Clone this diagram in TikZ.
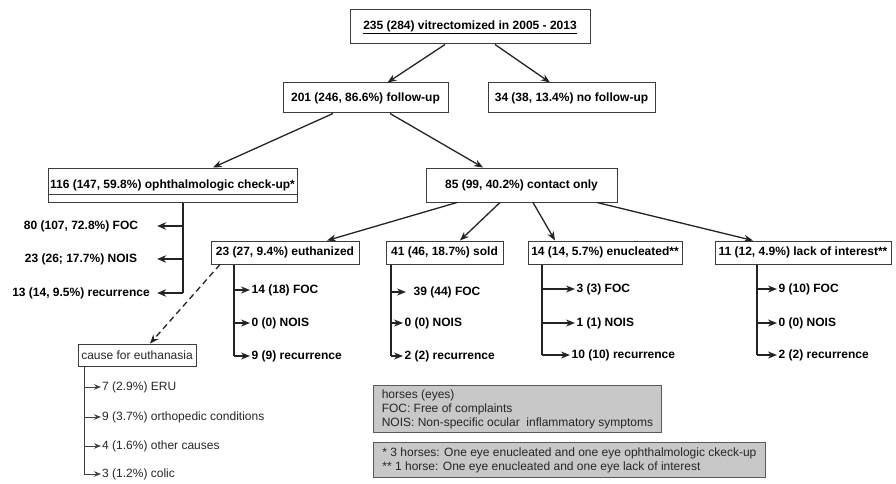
\documentclass[tikz,border=0pt]{standalone}
\usepackage{fontspec}
\setmainfont{Liberation Sans}
\usetikzlibrary{arrows.meta}
\definecolor{legfill}{RGB}{200,200,200}
\definecolor{linecol}{RGB}{35,35,35}
\definecolor{boxcol}{RGB}{60,60,60}
\begin{document}
\begin{tikzpicture}[x=1pt,y=-1pt,
  every node/.style={font=\fontsize{12}{14}\selectfont},
  box/.style={draw=boxcol, line width=1pt, inner sep=0pt, font=\fontsize{12}{14}\selectfont\bfseries},
  rbox/.style={draw=boxcol, line width=0.9pt, inner sep=0pt, font=\fontsize{12}{14}\selectfont, text=black!85},
  arr/.style={draw=linecol, line width=1.3pt, -{Stealth[length=9pt,width=7pt]}},
  arrthick/.style={draw=linecol, line width=1.8pt, -{Stealth[length=9pt,width=7.5pt]}},
  arrthin/.style={draw=black!75, line width=0.9pt, -{Stealth[length=7pt,width=5.5pt]}},
  dasharr/.style={draw=linecol, line width=1.3pt, dash pattern=on 6pt off 4pt, -{Stealth[length=9pt,width=7pt]}},
  tree/.style={draw=linecol, line width=1.3pt},
  treethick/.style={draw=linecol, line width=1.8pt},
  treethin/.style={draw=black!75, line width=0.9pt},
  lbl/.style={font=\fontsize{12}{14}\selectfont\bfseries, anchor=west, inner sep=1.5pt},
  lblc/.style={font=\fontsize{12}{14}\selectfont\bfseries, minimum width=152pt, inner sep=0pt, align=center},
  rlbl/.style={font=\fontsize{12}{14}\selectfont, anchor=west, inner sep=1pt, text=black!85},
  legend/.style={draw=black!65, line width=0.9pt, fill=legfill, anchor=north west, inner xsep=7pt, inner ysep=0pt, align=left, font=\fontsize{12}{14}\selectfont, text=black!85}
]
\useasboundingbox (0,0) rectangle (896,484);

% main boxes
\node[box, minimum width=240pt, minimum height=34pt] (top) at (470,27) {\underline{235 (284) vitrectomized in 2005 - 2013}};
\node[box, minimum width=165pt, minimum height=30pt] (fu) at (365.5,98) {201 (246, 86.6\%) follow-up};
\node[box, minimum width=167pt, minimum height=30pt] (nofu) at (571.5,98) {34 (38, 13.4\%) no follow-up};
\node[box, minimum width=249pt, minimum height=34pt] (check) at (172.5,185) {116 (147, 59.8\%) ophthalmologic check-up*};
\draw[draw=boxcol, line width=1pt] ([yshift=-9pt]check.west) -- ([yshift=-9pt]check.east);
\node[box, minimum width=191pt, minimum height=34pt] (contact) at (521.5,185) {85 (99, 40.2\%) contact only};

\node[box, minimum width=148pt, minimum height=23pt] (euth) at (285,252.5) {23 (27, 9.4\%) euthanized};
\node[box, minimum width=117pt, minimum height=23pt] (sold) at (444.5,252.5) {41 (46, 18.7\%) sold};
\node[box, minimum width=154pt, minimum height=23pt] (enuc) at (605,252.5) {14 (14, 5.7\%) enucleated**};
\node[box, minimum width=176pt, minimum height=23pt] (lack) at (803,252.5) {11 (12, 4.9\%) lack of interest**};

% connectors between boxes
\draw[arr] ([xshift=-25pt]top.south) -- ([xshift=22pt]fu.north);
\draw[arr] ([xshift=25pt]top.south) -- ([xshift=-21.5pt]nofu.north);
\draw[arr] ([xshift=-32.5pt]fu.south) -- ([xshift=40.5pt]check.north);
\draw[arr] ([xshift=24.5pt]fu.south) -- ([xshift=-38.5pt]contact.north);
\draw[arr] ([xshift=-64.5pt]contact.south) -- ([xshift=42pt]euth.north);
\draw[arr] ([xshift=-21.5pt]contact.south) -- ([xshift=15.5pt]sold.north);
\draw[arr] ([xshift=11.5pt]contact.south) -- ([xshift=-50pt]enuc.north);
\draw[arr] ([xshift=75.5pt]contact.south) -- ([xshift=-50pt]lack.north);

% ophthalmologic check-up branches
\node[lblc] (c1) at (81,226) {80 (107, 72.8\%) FOC};
\node[lblc] (c2) at (81,259) {23 (26; 17.7\%) NOIS};
\node[lblc] (c3) at (81,293) {13 (14, 9.5\%) recurrence};
\coordinate (cb) at (183,293);
\draw[treethick] (check.south -| cb) -- (cb);
\draw[arrthick] (c1.east -| cb) -- (c1.east);
\draw[arrthick] (c2.east -| cb) -- (c2.east);
\draw[arrthick] (c3.east -| cb) -- (c3.east);

% euthanized branches
\node[lbl] (e1) at (250,290) {14 (18) FOC};
\node[lbl] (e2) at (250,323) {0 (0) NOIS};
\node[lbl] (e3) at (250,356) {9 (9) recurrence};
\coordinate (eb) at (234,356);
\draw[tree] (euth.south -| eb) -- (eb);
\draw[arr] (e1.west -| eb) -- (e1.west);
\draw[arr] (e2.west -| eb) -- (e2.west);
\draw[arr] (e3.west -| eb) -- (e3.west);

% sold branches
\node[lbl] (s1) at (406,292) {\hspace{6pt}39 (44) FOC};
\node[lbl] (s2) at (403,323) {0 (0) NOIS};
\node[lbl] (s3) at (403,356) {2 (2) recurrence};
\coordinate (sb) at (391,356);
\draw[tree] (sold.south -| sb) -- (sb);
\draw[arr] (s1.west -| sb) -- (s1.west);
\draw[arr] (s2.west -| sb) -- (s2.west);
\draw[arr] (s3.west -| sb) -- (s3.west);

% enucleated branches
\node[lbl] (n1) at (575,289) {3 (3) FOC};
\node[lbl] (n2) at (575,323) {1 (1) NOIS};
\node[lbl] (n3) at (570,355) {10 (10) recurrence};
\coordinate (nb) at (542,355);
\draw[tree] (enuc.south -| nb) -- (nb);
\draw[arr] (n1.west -| nb) -- (n1.west);
\draw[arr] (n2.west -| nb) -- (n2.west);
\draw[arr] (n3.west -| nb) -- (n3.west);

% lack of interest branches
\node[lbl] (l1) at (777,289) {9 (10) FOC};
\node[lbl] (l2) at (777,323) {0 (0) NOIS};
\node[lbl] (l3) at (777,355) {2 (2) recurrence};
\coordinate (lb) at (757,355);
\draw[tree] (lack.south -| lb) -- (lb);
\draw[arr] (l1.west -| lb) -- (l1.west);
\draw[arr] (l2.west -| lb) -- (l2.west);
\draw[arr] (l3.west -| lb) -- (l3.west);

% cause for euthanasia
\node[rbox, minimum width=118pt, minimum height=22pt] (cause) at (137,355) {cause for euthanasia};
\draw[dasharr] ([xshift=-65pt]euth.south) -- ([xshift=13pt]cause.north);
\node[rlbl] (k1) at (101,387) {7 (2.9\%) ERU};
\node[rlbl] (k2) at (101,417) {9 (3.7\%) orthopedic conditions};
\node[rlbl] (k3) at (101,446) {4 (1.6\%) other causes};
\node[rlbl] (k4) at (101,474) {3 (1.2\%) colic};
\coordinate (kb) at (84,474);
\draw[treethin] (cause.south -| kb) -- (kb);
\draw[arrthin] (k1.west -| kb) -- (k1.west);
\draw[arrthin] (k2.west -| kb) -- (k2.west);
\draw[arrthin] (k3.west -| kb) -- (k3.west);
\draw[arrthin] (k4.west -| kb) -- (k4.west);

% legends
\node[legend, minimum width=288pt, minimum height=47pt] (leg1) at (373,385)
  {horses (eyes)\\FOC: Free of complaints\\NOIS: Non-specific ocular\ \ inflammatory symptoms};
\node[legend, minimum width=392pt, minimum height=35pt] (leg2) at (373,442)
  {{*} 3 horses: One eye enucleated and one eye ophthalmologic ckeck-up\\{**} 1 horse: One eye enucleated and one eye lack of interest};
\end{tikzpicture}
\end{document}
